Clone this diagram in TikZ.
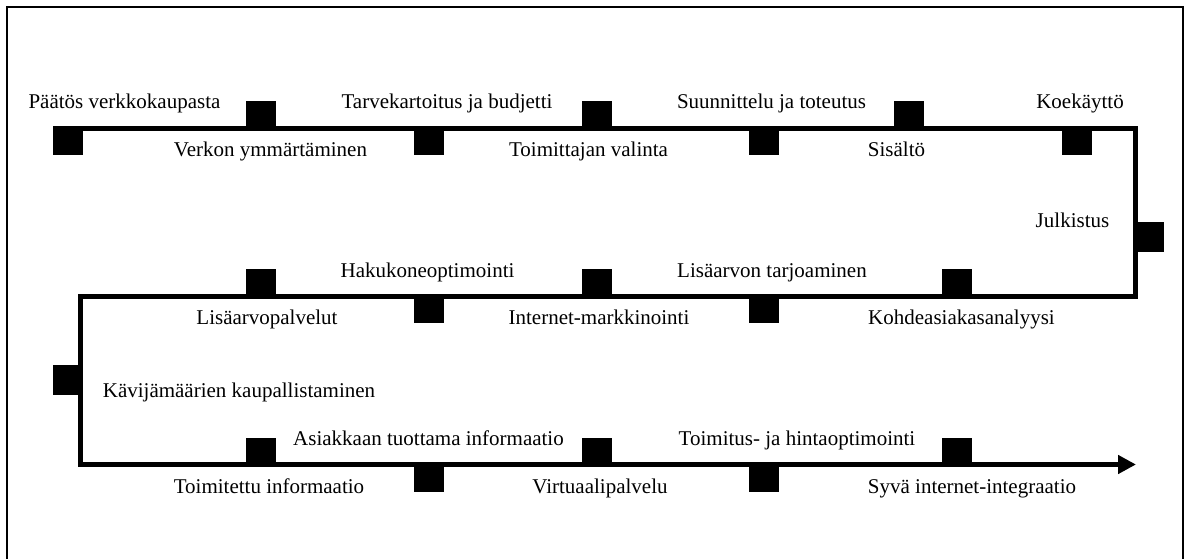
\documentclass[tikz,border=0pt]{standalone}
\usepackage{fontspec}
\setmainfont{Liberation Serif}
\usetikzlibrary{arrows.meta}
\tikzset{
  sq/.style={fill=black, draw=none},
  lbl/.style={anchor=base, inner sep=0pt, font=\fontsize{21}{24}\selectfont},
  flow/.style={line width=5pt, line join=miter},
  frame/.style={line width=1.5pt}
}
\begin{document}
\begin{tikzpicture}[x=1pt,y=-1pt]
\useasboundingbox (0,0) rectangle (1187,559);
% frame (bottom edge not visible)
\draw[frame] (7,562) -- (7,7) -- (1183,7) -- (1183,562);
% path coordinates
\coordinate (s) at (53,128.5);
\coordinate (c1) at (1135.5,128.5);
\coordinate (c2) at (1135.5,296);
\coordinate (c3) at (80.5,296);
\coordinate (c4) at (80.5,464.5);
\coordinate (e) at (1136,464.5);
\draw[flow, -{Triangle[length=18pt,width=18pt]}] (s) -- (c1) -- (c2) -- (c3) -- (c4) -- (e);
% row 1 squares
\foreach \x in {53,414,749,1062} \fill[sq] (\x,126) rectangle ++(30,29.5);
\foreach \x in {246,582,894} \fill[sq] (\x,101.5) rectangle ++(30,29.5);
% row 2 squares
\foreach \x in {414,749} \fill[sq] (\x,293.5) rectangle ++(30,29.5);
\foreach \x in {246,582,942} \fill[sq] (\x,269) rectangle ++(30,29.5);
% row 3 squares
\foreach \x in {414,749} \fill[sq] (\x,462) rectangle ++(30,29.5);
\foreach \x in {246,582,942} \fill[sq] (\x,437.5) rectangle ++(30,29.5);
% side squares
\fill[sq] (1133.5,222) rectangle ++(30,29.5);
\fill[sq] (53,365) rectangle ++(30,29.5);
% labels row 1
\node[lbl] (t1) at (124.5,109) {Päätös verkkokaupasta};
\node[lbl] (t2) at (270.5,157) {Verkon ymmärtäminen};
\node[lbl] (t3) at (447,109) {Tarvekartoitus ja budjetti};
\node[lbl] (t4) at (588.5,157) {Toimittajan valinta};
\node[lbl] (t5) at (771.5,109) {Suunnittelu ja toteutus};
\node[lbl] (t6) at (896.5,157) {Sisältö};
\node[lbl] (t7) at (1080,109) {Koekäyttö};
\node[lbl] (t8) at (1072.5,228) {Julkistus};
% labels row 2
\node[lbl] (t9) at (961.5,324) {Kohdeasiakasanalyysi};
\node[lbl] (t10) at (772,277) {Lisäarvon tarjoaminen};
\node[lbl] (t11) at (599,324) {Internet-markkinointi};
\node[lbl] (t12) at (427.5,277) {Hakukoneoptimointi};
\node[lbl] (t13) at (267,324) {Lisäarvopalvelut};
\node[lbl] (t14) at (239,397) {Kävijämäärien kaupallistaminen};
% labels row 3
\node[lbl] (t15) at (269,493) {Toimitettu informaatio};
\node[lbl] (t16) at (428.5,445) {Asiakkaan tuottama informaatio};
\node[lbl] (t17) at (600,493) {Virtuaalipalvelu};
\node[lbl] (t18) at (797,445) {Toimitus- ja hintaoptimointi};
\node[lbl] (t19) at (972,493) {Syvä internet-integraatio};
\end{tikzpicture}
\end{document}
